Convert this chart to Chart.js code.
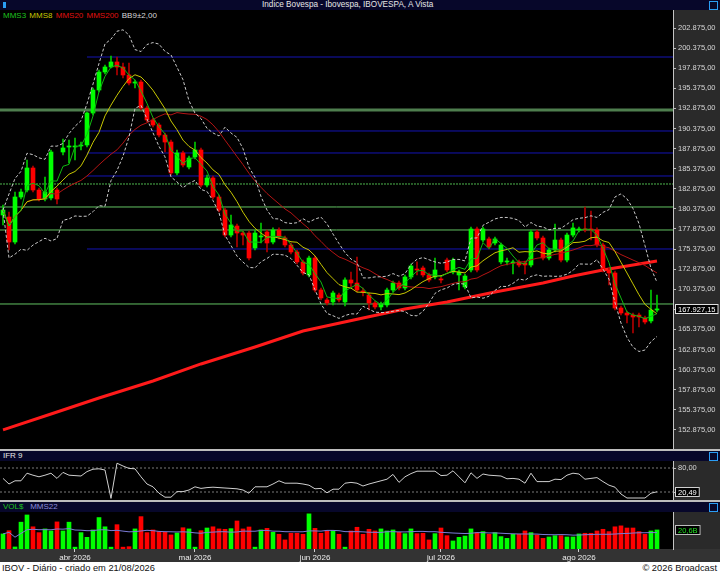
<!DOCTYPE html>
<html>
<head>
<meta charset="utf-8">
<script src="https://cdn.jsdelivr.net/npm/chart.js@4.4.1/dist/chart.umd.min.js"></script>
<style>
  body { margin: 0; width: 720px; height: 575px; background: #000; overflow: hidden; position: relative;
         font-family: "Liberation Sans", Arial, sans-serif; font-size: 8px; }
  .abs { position: absolute; }
  .hdr { position: absolute; left: 0; width: 720px; background: #07072a; color: #e6e6e6; line-height: 10px; }
  .axisbg { position: absolute; left: 673px; width: 47px; background: #2a2a2a; }
  .sep { position: absolute; left: 0; width: 720px; height: 2px; background: #bdbdbd; }
  .icon { position: absolute; width: 7px; height: 7px; border: 1px solid #2a9df4; top: 1px; left: 709px; }
  canvas { position: absolute; left: 0; }
</style>
</head>
<body>
<div class="hdr" style="top:0;height:10px;">
  <div class="abs" style="left:3px;top:2px;width:3px;height:6px;background:#2a9df4"></div>
  <div class="abs" style="left:262px;top:0;font-size:8.2px;">Índice Bovespa - Ibovespa, IBOVESPA, A Vista</div>
  <div class="icon"></div>
</div>
<div class="axisbg" style="top:10px;height:439px;"></div>
<div class="abs" style="left:3px;top:10px;line-height:11px;white-space:nowrap;word-spacing:1px;">
  <span style="color:#1ec31e">MMS3</span>
  <span style="color:#c8c800">MMS8</span>
  <span style="color:#e01010">MMS20</span>
  <span style="color:#e01010">MMS200</span>
  <span style="color:#d8d8d8">BB9±2,00</span>
</div>
<canvas id="main" width="720" height="439" style="top:10px"></canvas>

<div class="sep" style="top:449px"></div>
<div class="hdr" style="top:451px;height:10px;">
  <div class="abs" style="left:3px;top:0;">IFR 9</div>
  <div class="icon"></div>
</div>
<div class="axisbg" style="top:461px;height:39px;"></div>
<canvas id="rsi" width="720" height="39" style="top:461px"></canvas>

<div class="sep" style="top:500px"></div>
<div class="hdr" style="top:502px;height:10px;">
  <div class="abs" style="left:3px;top:0;"><span style="color:#1ec31e">VOL$</span>&nbsp;&nbsp;&nbsp;<span style="color:#8c8cdc">MMS22</span></div>
  <div class="icon"></div>
</div>
<div class="axisbg" style="top:512px;height:37px;"></div>
<div class="abs" style="left:0;top:549px;width:720px;height:13px;background:#333"></div>
<canvas id="vol" width="720" height="50" style="top:512px"></canvas>

<div class="abs" style="left:0;top:562px;width:720px;height:13px;background:#fff;color:#111;font-size:9.3px;line-height:13px;">
  <span class="abs" style="left:2px;">IBOV - Diário - criado em 21/08/2026</span>
  <span class="abs" style="right:3px;">© 2026 Broadcast</span>
</div>

<script>
// daily candles, 16/03/2026 .. 20/08/2026
const opens = [179610,179360,176250,181850,182720,185460,182720,181600,181730,182720,
  187450,188070,188070,188200,188320,192300,195160,197400,198020,198650,
  198020,197030,196030,196160,192920,191430,190810,189560,188690,184840,
  187330,185580,186830,187700,183340,184220,181850,180230,177120,178240,
  177370,177370,175510,176880,177500,176250,177750,176750,175880,175010,
  173770,172150,174260,170280,169040,168790,169660,168790,171530,171150,
  170160,169660,168670,168170,168420,170280,171150,170530,171900,172890,
  173020,172150,171900,171650,174010,172520,172150,170660,172770,177870,
  176500,176630,176130,173770,173770,173640,173770,173640,173390,177500,
  176750,174260,175260,176500,174010,177120,177750,177870,177870,177750,
  175880,172770,172400,168040,167420,167170,167170,166800,166430,167790];
const highs = [180860,179990,182470,182850,186450,185710,182970,184340,187700,182970,
  189070,188940,189190,188690,192430,195410,197650,198270,199390,199270,
  198520,198520,196410,196410,193170,191680,191060,189810,188940,187700,
  187570,186950,188690,187950,184590,184460,182100,180480,179610,178490,
  177620,177620,177750,178620,177750,178000,178000,177000,176130,175260,
  174010,174510,174510,170530,169290,170160,169910,171780,172520,174390,
  170530,169910,168910,168790,170530,171400,171400,172150,173520,173770,
  173270,172400,174260,172020,174260,174260,172770,172270,178120,178120,
  178120,176880,176880,176130,174260,174010,174010,173890,177750,177750,
  177000,175510,178490,176750,177370,178620,178120,180610,180110,178000,
  176130,173020,172650,168290,167670,167420,167420,167050,170280,169660];
const lows = [178370,175260,176000,181600,182470,182470,181350,181350,181480,180980,
  187080,186080,186450,187700,188070,192050,194910,197150,197900,197030,
  196660,195780,195410,192670,191180,190560,189320,187450,184590,184590,
  185580,185330,186580,183100,183100,181600,179990,176880,176880,175630,
  175880,174010,175260,176130,175010,176000,176630,175630,174760,173520,
  172150,171900,170030,169040,168420,168420,168790,168290,170660,170030,
  169540,167790,167920,167790,168170,170030,170280,170280,171650,172150,
  171900,171280,171650,171150,172520,172270,170280,170410,172520,172520,
  176250,175380,175880,173520,173390,172270,173140,172270,173140,176500,
  174010,174010,175010,173770,173770,176880,177500,177500,176500,175630,
  172520,170900,167790,167170,166180,164930,165680,166050,166180,167550];
const closes = [180230,176250,181850,182470,185460,182720,181600,182470,187450,181600,
  187950,188200,188200,188320,192300,195160,197400,198020,198650,198020,
  197030,196030,196160,192920,191430,190810,189560,188690,184840,187330,
  185830,186700,187700,183340,184220,181850,180230,177120,178370,177370,
  177120,174260,177370,177000,176130,177750,176880,175880,175010,173770,
  172400,174260,170280,169290,168670,169910,169040,171530,171150,170280,
  170030,168670,168170,168540,170280,171150,170530,171900,173270,172770,
  172150,171530,172770,171530,172770,174010,172520,172020,177870,172770,
  177870,175630,176630,175880,173890,173770,173390,173390,177500,176750,
  174260,175260,176500,174010,177120,178000,177870,177750,177750,175880,
  172770,172400,168040,167420,167170,166920,166920,166300,167790,167927.15];
// financial volume, billions of R$
const volumes = [16.3,19.8,2.2,29,36.8,24,17.7,21.7,19.5,29.3,
  19.5,29,2,17.7,12.6,20.6,34,24,2,26.3,
  2,2.5,21.7,35,17.7,20.6,18.8,18,15.2,17.3,
  23,21.7,2,19.8,22.7,24,21.7,21.3,22,30.3,
  21.7,23.8,2,20.6,22.3,18,15.9,9.8,17,17,
  15.9,38,22.3,17,19.5,19.5,15.9,2,19.5,23.5,
  15.9,21.3,19.5,21.7,19.5,20.6,18,16.6,21.7,16.6,
  17,9.8,16.6,22.7,14.4,8.7,12.6,14,21.7,17.7,
  18.8,15.9,17.7,13.4,11.5,15.9,15.9,19.5,17.7,15.2,
  11.5,13,14.4,14.4,13,13,16.3,17,17,19.5,
  21.3,18.8,24,25,22.7,22.7,18.8,15.9,19.5,20.6];
// IFR 9
const rsi = [54,40,48,48,67,62,58,62,67,54,
  69,62,61,60,71,77,78,75,4,92,
  85,79,78,58,40,33,17,7,7,21,
  21,25,33,29,31,32,31,30,29,28,
  25,17,33,33,33,40,48,42,42,42,
  40,37,28,29,18,27,27,42,44,42,
  35,40,44,48,52,64,44,58,66,72,
  72,72,72,61,62,73,58,43,68,54,
  65,62,61,60,53,54,52,42,67,46,
  46,46,52,51,62,67,65,52,54,56,
  46,37,32,15,5,5,5,5,17,20.49];
// MMS200 read at some sessions (needs 200 days of history)
const mms200Idx = [0,8,16,25,33,42,50,60,67,74,82,90,95,100,109];
const mms200Val = [152870,154860,156850,158960,161080,163190,165180,166800,167920,168790,170030,171150,172020,172770,173880];

const priceTicks = [152875,155375,157875,160375,162875,165375,167875,170375,172875,175375,
  177875,180375,182875,185375,187875,190375,192875,195375,197875,200375,202875];
const greenLevels = [192674, 183469, 180607, 177746, 168541];
const blueLevels = [199267, 190062, 187325, 184464, 175382];
const blueFrom = 14;
const rsiLevels = [80, 20];
const monthIdx = [12, 32, 52, 73, 96];
const monthLabels = ['abr 2026', 'mai 2026', 'jun 2026', 'jul 2026', 'ago 2026'];

const FONT = '"Liberation Sans", Arial, sans-serif';
const xMin = -0.5, xMax = 111.67;
const up = closes.map((c, i) => c >= opens[i]);
const bodyCol = up.map(u => u ? '#00ff00' : '#ff0000');
const wickCol = up.map(u => u ? '#00c800' : '#b00000');

function sma(src, n) {
  return src.map((_, i) => {
    const s = src.slice(Math.max(0, i - n + 1), i + 1);
    return s.reduce((a, b) => a + b, 0) / s.length;
  });
}
function bands(src, n, k) {
  const u = [], l = [];
  src.forEach((_, i) => {
    const s = src.slice(Math.max(0, i - n + 1), i + 1);
    const m = s.reduce((a, b) => a + b, 0) / s.length;
    const sd = Math.sqrt(s.reduce((a, b) => a + (b - m) * (b - m), 0) / s.length);
    u.push(m + k * sd); l.push(m - k * sd);
  });
  return [u, l];
}
const pts = arr => arr.map((v, i) => ({x: i, y: v}));
const hline = (v, from) => [{x: from, y: v}, {x: xMax, y: v}];
function fmtBR(v, d) {
  const p = v.toFixed(d).split('.');
  p[0] = p[0].replace(/\B(?=(\d{3})+(?!\d))/g, '.');
  return p.join(',');
}
function lineDs(data, color, width, order, dash) {
  return {type: 'line', data, borderColor: color, borderWidth: width, pointRadius: 0,
          borderDash: dash || [], tension: 0, order};
}

const xScale = {type: 'linear', min: xMin, max: xMax, offset: false, display: false, grid: {offset: false}};
const rightAxis = (min, max, ticks, cb) => ({
  position: 'right', min, max,
  afterFit: s => { s.width = 47; s.paddingTop = 0; s.paddingBottom = 0; },
  afterBuildTicks: s => { s.ticks = ticks.map(v => ({value: v})); },
  ticks: {color: '#d6d6d6', font: {size: 7.5, family: FONT}, padding: 2, callback: cb, autoSkip: false},
  grid: {drawOnChartArea: false, drawTicks: true, tickLength: 3, color: '#bdbdbd'},
  border: {display: true, color: '#c4c4c4', width: 1}
});
const base = {responsive: false, animation: false, events: [],
  layout: {padding: 0}, plugins: {legend: {display: false}, tooltip: {enabled: false}}};

function valueBox(text, value, textColor, borderColor) {
  return {
    id: 'valueBox',
    afterDraw(chart) {
      const {ctx, chartArea} = chart;
      const py = Math.round(chart.scales.y.getPixelForValue(value));
      ctx.save();
      ctx.font = '7.5px ' + FONT;
      const w = ctx.measureText(text).width + 6;
      const x0 = chartArea.right + 2;
      ctx.fillStyle = '#000';
      ctx.fillRect(x0, py - 5, w, 10);
      ctx.strokeStyle = borderColor;
      ctx.lineWidth = 1;
      ctx.strokeRect(x0 + 0.5, py - 4.5, w - 1, 9);
      ctx.fillStyle = textColor;
      ctx.textBaseline = 'middle';
      ctx.fillText(text, x0 + 3, py + 0.5);
      ctx.restore();
    }
  };
}

// ---- price panel
const mms3 = sma(closes, 3), mms8 = sma(closes, 8), mms20 = sma(closes, 20);
const [bbUp, bbLo] = bands(closes, 9, 2);
const mainSets = [];
greenLevels.forEach((v, k) => {
  if (k === 0) mainSets.push(lineDs(hline(v, xMin), '#4e7e4e', 3, 30));
  else if (k === 1) mainSets.push(lineDs(hline(v, xMin), '#4fb84f', 1, 30, [2, 1]));
  else mainSets.push(lineDs(hline(v, xMin), '#62c262', 1, 30));
});
blueLevels.forEach(v => mainSets.push(lineDs(hline(v, blueFrom), '#1414b4', 1, 30)));
mainSets.push(lineDs(mms200Idx.map((x, k) => ({x, y: mms200Val[k]})), '#ff1a1a', 3, 20));
mainSets.push({type: 'bar', data: closes.map((_, i) => ({x: i, y: [lows[i], highs[i]]})),
  backgroundColor: wickCol, barThickness: 1, grouped: false, order: 12});
mainSets.push({type: 'bar', data: closes.map((c, i) => ({x: i, y: [opens[i], c]})),
  backgroundColor: bodyCol, barThickness: 4, minBarLength: 1, grouped: false, order: 11});
mainSets.push(lineDs(pts(bbUp), '#c8c8c8', 1, 3, [3, 2]));
mainSets.push(lineDs(pts(bbLo), '#c8c8c8', 1, 3, [3, 2]));
mainSets.push(lineDs(pts(mms20), '#b41414', 1, 4));
mainSets.push(lineDs(pts(mms8), '#c8c800', 1, 2));
mainSets.push(lineDs(pts(mms3), '#10b810', 1, 1));

new Chart(document.getElementById('main'), {
  type: 'bar',
  data: {datasets: mainSets},
  options: Object.assign({}, base, {
    scales: {
      x: xScale,
      y: rightAxis(150500, 205115, priceTicks, v => fmtBR(v, 2))
    }
  }),
  plugins: [valueBox(fmtBR(closes[closes.length - 1], 2), closes[closes.length - 1], '#ffffff', '#e0e0e0')]
});

// ---- IFR panel
new Chart(document.getElementById('rsi'), {
  type: 'line',
  data: {datasets: [
    lineDs(hline(rsiLevels[0], xMin), '#7a7a7a', 1, 5, [2, 2]),
    lineDs(hline(rsiLevels[1], xMin), '#7a7a7a', 1, 5, [2, 2]),
    lineDs(pts(rsi), '#d0d0d0', 1, 1)
  ]},
  options: Object.assign({}, base, {
    scales: {
      x: xScale,
      y: rightAxis(0, 97.5, rsiLevels, v => v === 80 ? fmtBR(v, 2) : '')
    }
  }),
  plugins: [valueBox(fmtBR(rsi[rsi.length - 1], 2), rsi[rsi.length - 1], '#ffffff', '#d0d0d0')]
});

// ---- volume panel
const mms22 = sma(volumes, 22);
new Chart(document.getElementById('vol'), {
  type: 'bar',
  data: {datasets: [
    {type: 'bar', data: pts(volumes), backgroundColor: bodyCol, barThickness: 4, grouped: false, order: 2},
    lineDs(pts(mms22), '#7c7cd8', 1, 1)
  ]},
  options: Object.assign({}, base, {
    scales: {
      x: {
        type: 'linear', min: xMin, max: xMax, offset: false, position: 'bottom',
        afterFit: s => { s.height = 13; s.paddingLeft = 0; s.paddingRight = 0; },
        afterBuildTicks: s => { s.ticks = monthIdx.map(v => ({value: v})); },
        ticks: {color: '#ececec', font: {size: 8, family: FONT}, padding: 1, maxRotation: 0, autoSkip: false,
                callback: v => monthLabels[monthIdx.indexOf(v)]},
        grid: {drawOnChartArea: false, drawTicks: true, tickLength: 3, color: '#d0d0d0', offset: false},
        border: {display: false}
      },
      y: rightAxis(0, 40, [], () => '')
    }
  }),
  plugins: [valueBox(fmtBR(volumes[volumes.length - 1], 1) + 'B', volumes[volumes.length - 1], '#22e022', '#bdbdbd')]
});
</script>
</body>
</html>
